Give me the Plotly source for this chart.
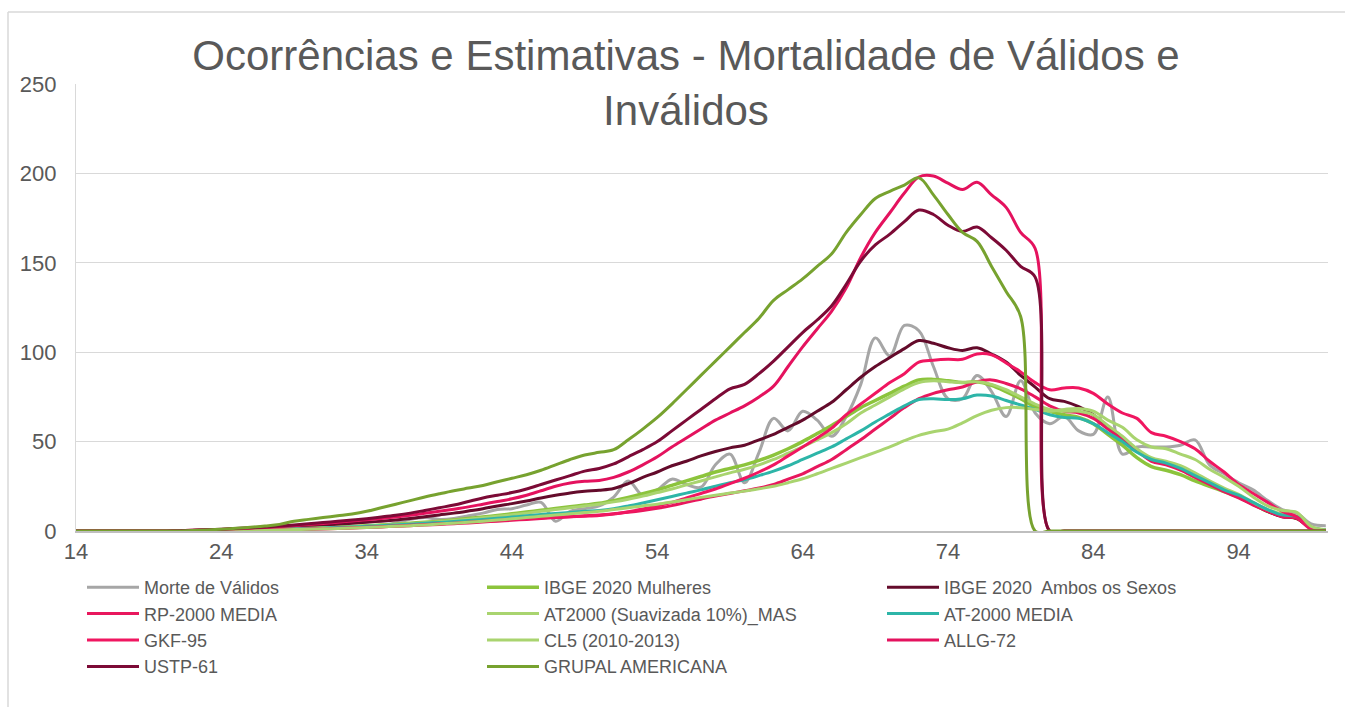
import plotly.graph_objects as go

ages = list(range(14, 101))

morte_validos = [0,0,0,0,0,0,0,0,0,0,0,0,0,0.3,0.5,0.8,1,1.3,1.6,2,2.5,3,4.5,6.5,7.5,6.5,7,8.5,10,12,12.5,14.5,16,5.5,11,12.5,14,19,28,20,23,29,26,24.5,37,43,27,44,63,56,67,62,53,64,82,108,98,115,112,92,74,74,87,78,64,84,66,60,64,56,54,75,43,47,47,47,48,51,37,32,27,23,17,12,10,4,3]

ibge_mulheres = [0,0,0,0,0,0,0,0.1,0.2,0.3,0.4,0.5,0.7,0.9,1.1,1.3,1.6,1.9,2.2,2.5,2.9,3.3,3.8,4.3,4.9,5.5,6.2,7,7.8,8.7,9.6,10.6,11.6,12.6,13.6,14.5,15.5,17,18.8,20.8,23,25.5,28,30.5,33,35,37,39.5,42.5,46,50,54.5,59,64,69,73,77,81,84.5,84.8,84,83,83.5,81.5,78,74,69.5,67,65,63.5,60,54,48,41,36,34,31.5,28,25,22,19,15,11,8.5,7,2,0.5]

ibge_ambos = [0,0,0,0,0,0,0,0.1,0.3,0.5,0.7,1,1.3,1.6,2,2.4,2.8,3.3,3.8,4.3,4.9,5.5,6.2,7,8,9,10,11.2,12.5,14,15.3,16.8,18.5,20,21.3,22.2,22.8,23.8,26.5,30,33,36.5,39,42,44.5,46.5,48,51,54,58,62,67,72,79,86,92,97,102,106.5,105,102.5,101,102.5,99,94.5,87,80.5,74,72.5,69.5,65,58,52,45,40,37.5,34.5,30.5,26.5,22.5,19,15,11,8,7,1.5,0.3]

rp2000_media = [0,0,0,0,0,0,0,0.05,0.1,0.2,0.3,0.4,0.5,0.6,0.7,0.85,1,1.2,1.4,1.7,2,2.3,2.6,3,3.3,3.7,4.1,4.5,5,5.5,6,6.5,7,7.5,8,8.5,9,9.7,10.5,11.5,12.7,14.2,16,17.8,19.5,21,22.5,24,26,29,32,36,40,45.5,51,57,63,69,74,77,79,80.5,83.5,84.5,82.5,79.5,75,70,67,66,63,57,51,45,39,37,34,30,26,22,18.5,14.5,11,8,7,1,0]

at2000_suav_mas = [0,0,0,0,0,0,0,0.1,0.2,0.3,0.4,0.5,0.6,0.8,1,1.2,1.5,1.8,2.1,2.4,2.8,3.2,3.6,4.1,4.6,5.2,5.9,6.6,7.4,8.2,9.1,10,11,12,13,14,15,16.3,17.8,19.5,21.5,23.5,25.8,28,30.3,32.5,34.5,37,40,43.5,47,51,55,60,66,70.5,75,79.5,83,84,83.5,83,83.5,82,79,75,71,68,67,67,65,59,53,46,41,39,36.5,32.5,28,24,20.5,16,12,9.5,8.5,2,0.5]

at2000_media = [0,0,0,0,0,0,0,0.05,0.1,0.2,0.3,0.4,0.55,0.7,0.9,1.1,1.3,1.6,1.9,2.2,2.6,3,3.4,3.8,4.3,4.8,5.3,5.9,6.5,7.1,7.8,8.5,9.2,9.8,10.4,11,11.5,12.5,14,15.7,17.5,19.3,21.2,23,25,27,28.7,31,33.5,36.5,40,43.5,47,51.5,56,61,65.5,70,73.5,74,73.5,74,76,75.5,73,70.5,68,65,63.5,63,60,55,50,44,40,38,35,31,27,23,20,16,12,9,8,2,0.5]

gkf95 = [0,0,0,0,0,0,0,0.05,0.1,0.2,0.3,0.4,0.5,0.65,0.8,0.9,1.1,1.3,1.5,1.8,2.1,2.4,2.8,3.2,3.6,4,4.4,4.9,5.4,5.9,6.4,6.9,7.3,7.7,8,8.3,8.7,9.5,10.8,12.3,14,16,18.5,21,23.5,26.5,29.5,33,37,42,47,52,57.5,65,71,77,83,88,94.5,95.5,96,96,99,98.5,94,89,83,79,80,80,77,71,66,63,55,53,50,46,39,33,26,21,16,11,8,1.5,0]

cl5_2010_2013 = [0,0,0,0,0,0,0,0.05,0.1,0.15,0.2,0.3,0.4,0.5,0.6,0.8,1,1.2,1.4,1.7,2,2.3,2.6,3,3.4,3.9,4.4,4.9,5.5,6.1,6.8,7.5,8.2,8.9,9.6,10.3,11,12,13,14,15,16.2,17.5,18.8,20,21.2,22.3,23.6,25,27,29.2,32,35,38,41,44,47,50.5,53.5,55.5,57,60.5,64.5,67.5,69,69,68,67,68,68.5,67,62,58,51,47,46,43,40,34.5,30,25,19,14,11.5,10.5,2.5,0.5]

allg72 = [0,0,0,0,0,0,0,0.2,0.4,0.6,0.9,1.2,1.6,2,2.5,3,3.6,4.2,4.9,5.6,6.3,7,7.8,8.8,9.9,11,12.2,13.5,15,16.5,18,20,22.5,25,26.8,27.8,28.3,30,33,37,41.5,47,52,57,62,66,70,75,81,92,103,113,123,136,153,167,178,189,198,198.5,194.5,191,195,188,181,167,158,0,0,0,0,0,0,0,0,0,0,0,0,0,0,0,0,0,0,0,0]

ustp61 = [0,0,0,0,0,0,0,0.2,0.4,0.7,1,1.4,1.8,2.3,2.8,3.4,4,4.7,5.4,6.1,6.9,7.8,8.8,10,11.5,13,14.5,16.5,18.5,20,21.5,23.5,26,28.5,31,33.5,35,37.5,41.5,45.5,50,56,62,68,74,79.5,82,88,95,103,111,118,126,138,151,160,166,173,179.5,177,171,167.5,170,164,157,148,142,0,0,0,0,0,0,0,0,0,0,0,0,0,0,0,0,0,0,0,0]

grupal_americana = [0,0,0,0,0,0,0,0,0.3,0.6,1,1.5,2.1,2.8,3.7,5.5,6.5,7.5,8.5,9.5,11,13,15,17,19,20.8,22.5,24,25.5,27.5,29.5,31.5,34,37,40,42.5,44,45.5,51,57,63.5,71,79,87,95,103,111,119,129,135,141,148,155,167,177,186,190,193.5,197.5,188,177,167,162,148,134,120,0,0,0,0,0,0,0,0,0,0,0,0,0,0,0,0,0,0,0,0,0]

x_ticks = [14, 24, 34, 44, 54, 64, 74, 84, 94]
y_ticks = [0, 50, 100, 150, 200, 250]

series = [
    ("Morte de Válidos", morte_validos, "#A6A6A6", 3),
    ("IBGE 2020 Mulheres", ibge_mulheres, "#8CC43C", 3.5),
    ("IBGE 2020  Ambos os Sexos", ibge_ambos, "#640B2B", 3),
    ("RP-2000 MEDIA", rp2000_media, "#E8175D", 3),
    ("AT2000 (Suavizada 10%)_MAS", at2000_suav_mas, "#A9D46F", 3),
    ("AT-2000 MEDIA", at2000_media, "#2DB5A8", 3),
    ("GKF-95", gkf95, "#F01660", 3),
    ("CL5 (2010-2013)", cl5_2010_2013, "#A9D46F", 3),
    ("ALLG-72", allg72, "#E4125E", 3),
    ("USTP-61", ustp61, "#7C0A36", 3),
    ("GRUPAL AMERICANA", grupal_americana, "#77A22F", 3),
]

fig = go.Figure()
for name, vals, color, w in series:
    fig.add_trace(go.Scatter(
        x=ages, y=vals, name=name, mode="lines",
        line=dict(color=color, width=w, shape="spline", smoothing=1),
    ))

L, R, T, B = 76, 23, 84, 176
W, H = 1351, 707
pw, ph = W - L - R, H - T - B

def px_x(px):
    return (px - L) / pw

def px_y(py):
    return (H - B - py) / ph

fig.update_layout(
    width=W, height=H,
    margin=dict(l=L, r=R, t=T, b=B),
    paper_bgcolor="white", plot_bgcolor="white",
    font=dict(family="Liberation Sans, Arial, sans-serif", color="#595959"),
    title=dict(
        text="Ocorrências e Estimativas - Mortalidade de Válidos e<br>Inválidos",
        font=dict(size=42, color="#595959"),
        x=686 / W, xref="container", xanchor="center",
        y=1 - 70 / H, yref="container", yanchor="top",
    ),
    xaxis=dict(
        range=[14, 100.15], tickvals=x_ticks, ticktext=[str(v) for v in x_ticks],
        showgrid=False, zeroline=False, showline=True, linecolor="#BFBFBF", linewidth=1.5,
        ticks="", tickfont=dict(size=22, color="#595959"),
    ),
    yaxis=dict(
        range=[0, 250], tickvals=y_ticks, showgrid=True, gridcolor="#D9D9D9", gridwidth=1.3,
        zeroline=False, showline=True, linecolor="#D9D9D9", linewidth=1.3,
        ticks="", tickfont=dict(size=22, color="#595959"), ticklabelstandoff=14,
    ),
    legend=dict(
        orientation="h", x=px_x(82), xanchor="left", y=px_y(569), yanchor="top",
        font=dict(size=18, color="#595959"), entrywidth=333, entrywidthmode="pixels",
        itemwidth=52, traceorder="normal", bgcolor="rgba(0,0,0,0)",
    ),
    shapes=[
        dict(type="line", xref="paper", yref="paper", x0=px_x(8), x1=px_x(1345),
             y0=px_y(12), y1=px_y(12), line=dict(color="#D9D9D9", width=1.5)),
        dict(type="line", xref="paper", yref="paper", x0=px_x(8), x1=px_x(8),
             y0=px_y(12), y1=px_y(720), line=dict(color="#D9D9D9", width=1.5)),
    ],
    showlegend=True,
)

fig.write_html("out.html", config={"displayModeBar": False},
               post_script="document.body.style.margin='0';")
